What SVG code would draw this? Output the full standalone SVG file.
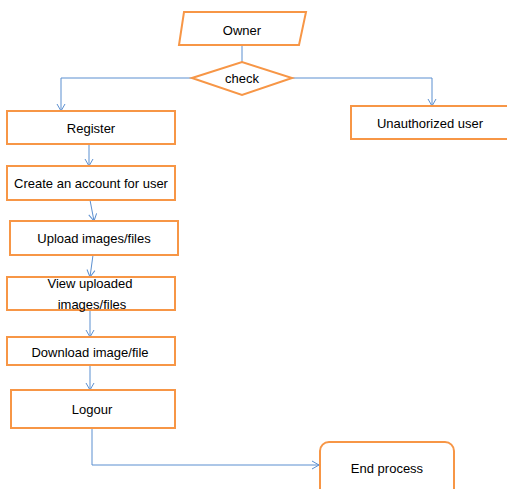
<svg xmlns="http://www.w3.org/2000/svg" width="507" height="489" viewBox="0 0 507 489">
<style>
.n{fill:#fff;stroke:#F79646;stroke-width:2}
.t{font-family:"Liberation Sans",Arial,sans-serif;font-size:13px;fill:#000;text-anchor:middle}
.c{fill:none;stroke:#5B8FD0;stroke-width:1}
</style>
<defs>
<marker id="a" markerWidth="10" markerHeight="10" refX="8" refY="5" orient="auto" markerUnits="userSpaceOnUse">
<path d="M1,1 L8,5 L1,9" fill="none" stroke="#5B8FD0" stroke-width="1"/>
</marker>
</defs>
<rect width="507" height="489" fill="#fff"/>
<g id="connectors">
<path class="c" d="M242,45 L242,62"/>
<path class="c" d="M192,78 L61,78 L61,111" marker-end="url(#a)"/>
<path class="c" d="M292,78 L432,78 L432,106" marker-end="url(#a)"/>
<path class="c" d="M89,144 L89,166" marker-end="url(#a)"/>
<path class="c" d="M90,200 L94,221" marker-end="url(#a)"/>
<path class="c" d="M93,255 L90,277" marker-end="url(#a)"/>
<path class="c" d="M90,310 L90,337" marker-end="url(#a)"/>
<path class="c" d="M90,365 L90,390" marker-end="url(#a)"/>
<path class="c" d="M92,428 L92,465 L319,465" marker-end="url(#a)"/>
</g>
<g id="owner">
<polygon class="n" points="184,12 306,12 299,45 179,45"/>
<text class="t" x="242" y="35">Owner</text>
</g>
<g id="check">
<polygon class="n" points="192,78 242,62 292,78 242,95"/>
<text class="t" x="242" y="83">check</text>
</g>
<g id="register">
<rect class="n" x="7" y="111" width="168" height="33"/>
<text class="t" x="91" y="133">Register</text>
</g>
<g id="unauthorized">
<rect class="n" x="351" y="106" width="160" height="33"/>
<text class="t" x="430" y="128">Unauthorized user</text>
</g>
<g id="create">
<rect class="n" x="7" y="166" width="168" height="34"/>
<text class="t" x="91" y="188">Create an account for user</text>
</g>
<g id="upload">
<rect class="n" x="10" y="221" width="168" height="34"/>
<text class="t" x="94" y="243">Upload images/files</text>
</g>
<g id="view">
<rect class="n" x="7" y="277" width="168" height="33"/>
<text class="t" x="90" y="288">View uploaded</text>
<text class="t" x="92" y="309">images/files</text>
</g>
<g id="download">
<rect class="n" x="7" y="337" width="168" height="28"/>
<text class="t" x="90" y="357">Download image/file</text>
</g>
<g id="logour">
<rect class="n" x="11" y="390" width="164" height="38"/>
<text class="t" x="92" y="414">Logour</text>
</g>
<g id="end">
<rect class="n" x="320" y="442" width="134" height="60" rx="9"/>
<text class="t" x="387" y="473">End process</text>
</g>
</svg>
